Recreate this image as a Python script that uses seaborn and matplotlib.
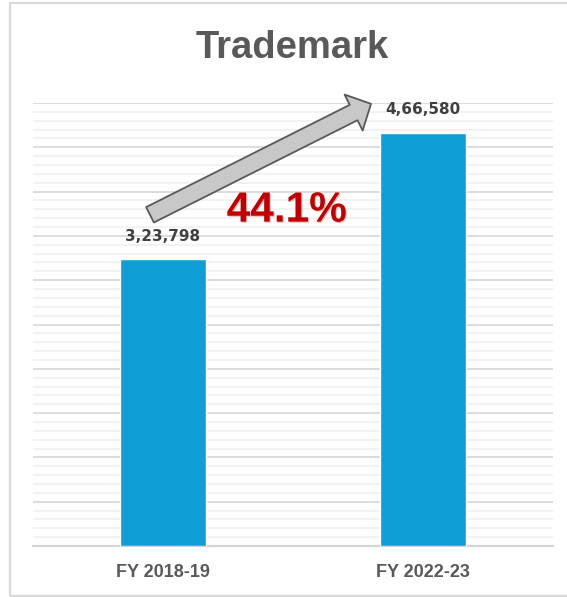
import matplotlib
matplotlib.use("Agg")
import matplotlib.pyplot as plt
import matplotlib.patheffects as pe
from matplotlib.patches import Rectangle
from matplotlib.ticker import MultipleLocator
import seaborn as sns
import pandas as pd

# --- datos ---
periodos = ["FY 2018-19", "FY 2022-23"]
solicitudes = [323798, 466580]
titulo = "Trademark"

sns.set_theme(style="white")
plt.rcParams["font.family"] = ["Liberation Sans", "DejaVu Sans"]

GRIS_TXT = "#595959"
AZUL = "#0F9ED5"


def formato_indio(n):
    """3,23,798 style grouping."""
    s = str(int(n))
    if len(s) <= 3:
        return s
    cola = s[-3:]
    resto = s[:-3]
    grupos = []
    while len(resto) > 2:
        grupos.insert(0, resto[-2:])
        resto = resto[:-2]
    if resto:
        grupos.insert(0, resto)
    return ",".join(grupos + [cola])


df = pd.DataFrame({"Periodo": periodos, "Solicitudes": solicitudes})
crecimiento = (solicitudes[1] / solicitudes[0] - 1) * 100

fig = plt.figure(figsize=(5.67, 5.97), dpi=100)
ax = fig.add_axes([33 / 567, 51 / 597, 520 / 567, 443 / 597])

sns.barplot(data=df, x="Periodo", y="Solicitudes", color=AZUL, saturation=1,
            width=0.33, ax=ax, zorder=3)

ax.set_xlim(-0.5, 1.5)
ax.set_ylim(0, 500000)
ax.yaxis.set_major_locator(MultipleLocator(50000))
ax.yaxis.set_minor_locator(MultipleLocator(10000))
ax.grid(which="minor", axis="y", color="#f0f0f0", lw=1.2, zorder=0)
ax.grid(which="major", axis="y", color="#d9d9d9", lw=1.3, zorder=1)
ax.set_axisbelow(True)
for lado in ["top", "left", "right"]:
    ax.spines[lado].set_visible(False)
ax.spines["bottom"].set_color("#d4d4d4")
ax.spines["bottom"].set_linewidth(1.5)
ax.tick_params(axis="y", which="both", length=0, labelleft=False)
ax.tick_params(axis="x", length=0, pad=13)
ax.set_xlabel("")
ax.set_ylabel("")
for t in ax.get_xticklabels():
    t.set_fontweight("bold")
    t.set_fontsize(13)
    t.set_color(GRIS_TXT)

# etiquetas de valor
for i, v in enumerate(solicitudes):
    ax.annotate(formato_indio(v), (i, v), xytext=(0, 16.5), textcoords="offset points",
                ha="center", va="center", fontsize=11, fontweight="bold",
                family=["DejaVu Sans"], color="#404040", zorder=5)

# flecha de crecimiento
ax.annotate("", xy=(1 - 0.2, solicitudes[1] + 32500),
            xytext=(-0.05, solicitudes[0] + 50000),
            arrowprops=dict(arrowstyle="simple,head_length=0.7,head_width=1.45,tail_width=0.62",
                            mutation_scale=20, fc="#c8c8c8", ec="#595959", lw=1.3,
                            shrinkA=0, shrinkB=0),
            annotation_clip=False, zorder=4)

ax.text(0.488, 0.757, f"{crecimiento:.1f}%", transform=ax.transAxes,
        ha="center", va="center", fontsize=30.5, fontweight="bold", color="#C00000",
        zorder=5,
        path_effects=[pe.SimplePatchShadow(offset=(0.8, -0.8), shadow_rgbFace="#7a0000",
                                           alpha=0.25), pe.Normal()])

fig.text(292 / 567, 1 - 58.3 / 597, titulo, ha="center", va="baseline",
         fontsize=27.5, fontweight="bold", color=GRIS_TXT)

# marco del grafico
fig.patches.append(Rectangle((10 / 567, 1.5 / 597), 1.2, 593 / 597,
                             transform=fig.transFigure, fill=False,
                             ec="#d9d9d9", lw=1.6, zorder=0))

fig.savefig("out.png", dpi=100)
